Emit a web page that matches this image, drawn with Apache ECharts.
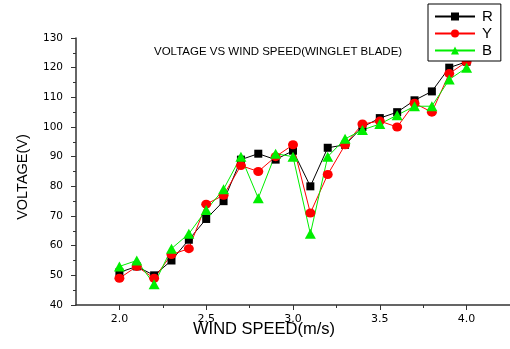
<!DOCTYPE html>
<html>
<head>
<meta charset="utf-8">
<script src="https://cdn.jsdelivr.net/npm/echarts@6/dist/echarts.min.js"></script>
<style>
  html, body { margin: 0; padding: 0; background: #fff; }
  #chart { width: 510px; height: 349px; }
</style>
</head>
<body>
<div id="chart"></div>
<script>
// wind speed (m/s)
const windSpeed = [2.0, 2.1, 2.2, 2.3, 2.4, 2.5, 2.6, 2.7, 2.8, 2.9, 3.0,
  3.1, 3.2, 3.3, 3.4, 3.5, 3.6, 3.7, 3.8, 3.9, 4.0];
// voltage per phase
const rPhase = [51, 53, 50, 55, 62, 69, 75, 89, 91, 89, 92, 80, 93, 94, 100, 103, 105, 109, 112, 120, 122];
const yPhase = [49, 53, 49, 57, 59, 74, 77, 87, 85, 90, 94, 71, 84, 94, 101, 102, 100, 108, 105, 118, 122];
const bPhase = [53, 55, 47, 59, 64, 72, 79, 90, 76, 91, 90, 64, 90, 96, 99, 101, 104, 107, 107, 116, 120];
// axis ticks
const xMajorTicks = [2.0, 2.5, 3.0, 3.5, 4.0];
const xMinorTicks = [2.25, 2.75, 3.25, 3.75];

const FONT = "Liberation Sans, Arial, sans-serif";
const TICK_FONT = "DejaVu Sans, sans-serif"; // wider digits, closer to the stretched original
const chart = echarts.init(document.getElementById("chart"), null, { renderer: "canvas" });

const pairs = (ys) => windSpeed.map((x, i) => [x, ys[i]]);

chart.setOption({
  animation: false,
  backgroundColor: "#fff",
  title: {
    text: "VOLTAGE VS WIND SPEED(WINGLET BLADE)",
    left: 149,
    top: 41,
    textStyle: { fontFamily: FONT, fontSize: 11.5, fontWeight: "normal", color: "#000" },
  },
  legend: {
    orient: "vertical",
    left: 428,
    top: 4,
    padding: [5, 8, 3, 6],
    itemGap: 2,
    itemWidth: 40,
    itemHeight: 10,
    borderColor: "#000",
    borderWidth: 1,
    backgroundColor: "#fff",
    textStyle: { fontFamily: FONT, fontSize: 15, color: "#000", padding: [0, 0, 0, 2] },
    data: ["R", "Y", "B"],
  },
  grid: { left: 76, top: 38, width: 437, height: 267, containLabel: false },
  xAxis: [
    {
      type: "value",
      min: 1.75,
      max: 4.25,
      splitLine: { show: false },
      axisLine: { lineStyle: { color: "#333", width: 1.5 } },
      axisTick: { customValues: xMajorTicks, length: 5, lineStyle: { color: "#333" } },
      axisLabel: {
        customValues: xMajorTicks,
        formatter: (v) => v.toFixed(1),
        margin: 9,
        fontFamily: TICK_FONT,
        fontSize: 11,
        color: "#000",
      },
    },
    {
      // minor ticks only
      type: "value",
      position: "bottom",
      min: 1.75,
      max: 4.25,
      splitLine: { show: false },
      axisLine: { show: false },
      axisTick: { customValues: xMinorTicks, length: 3, lineStyle: { color: "#333" } },
      axisLabel: { show: false },
    },
  ],
  yAxis: {
    type: "value",
    min: 40,
    max: 130,
    interval: 10,
    splitLine: { show: false },
    axisLine: { show: true, lineStyle: { color: "#333", width: 1.5 } },
    axisTick: { show: true, length: 5, lineStyle: { color: "#333" } },
    minorTick: { show: true, splitNumber: 2, length: 3, lineStyle: { color: "#333" } },
    axisLabel: { margin: 13, fontFamily: TICK_FONT, fontSize: 10.5, color: "#000" },
  },
  graphic: [
    {
      type: "text",
      left: 193,
      top: 321,
      style: { text: "WIND SPEED(m/s)", fontFamily: FONT, fontSize: 16.5, fill: "#000" },
    },
    {
      type: "text",
      x: 15,
      y: 177,
      rotation: Math.PI / 2,
      style: {
        text: "VOLTAGE(V)",
        fontFamily: FONT,
        fontSize: 14.5,
        fill: "#000",
        align: "center",
        verticalAlign: "top",
      },
    },
  ],
  series: [
    {
      name: "R",
      type: "line",
      data: pairs(rPhase),
      symbol: "rect",
      symbolSize: 8,
      color: "#000",
      lineStyle: { color: "#000", width: 1 },
      itemStyle: { color: "#000" },
    },
    {
      name: "Y",
      type: "line",
      data: pairs(yPhase),
      symbol: "circle",
      symbolSize: [10, 9],
      color: "#ff0000",
      lineStyle: { color: "#ff0000", width: 1 },
      itemStyle: { color: "#ff0000" },
    },
    {
      name: "B",
      type: "line",
      data: pairs(bPhase),
      symbol: "triangle",
      symbolSize: [11, 10],
      color: "#00ee00",
      lineStyle: { color: "#00ee00", width: 1 },
      itemStyle: { color: "#00ee00" },
    },
  ],
});
</script>
</body>
</html>
